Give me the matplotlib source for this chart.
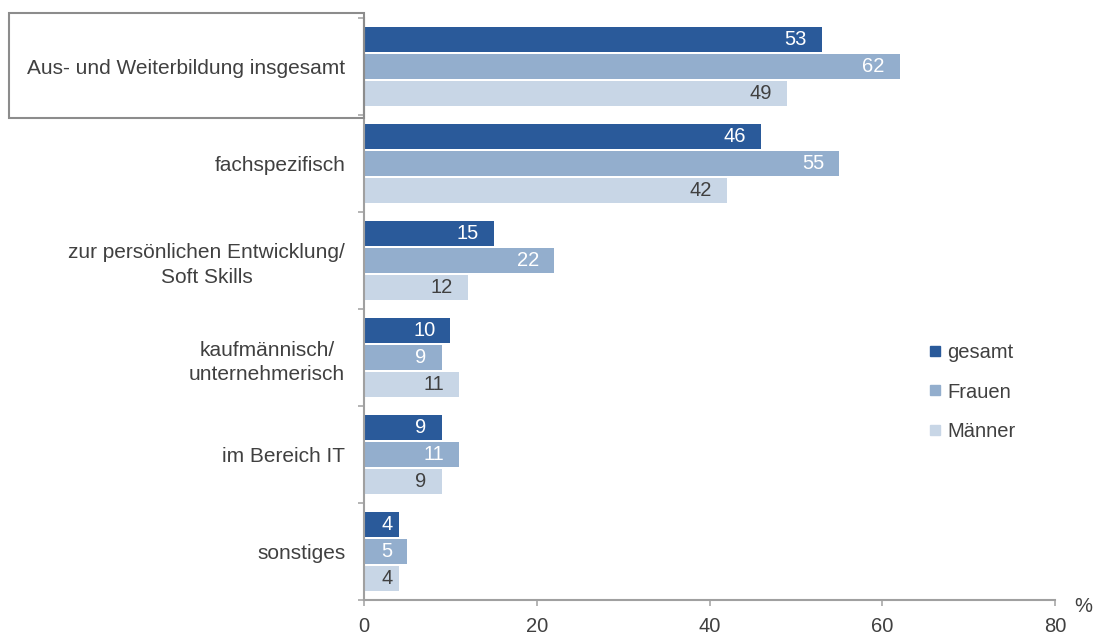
import matplotlib
matplotlib.use("Agg")
import matplotlib.pyplot as plt
from matplotlib.lines import Line2D
from matplotlib.patches import Rectangle

plt.rcParams['font.family'] = ['Liberation Sans', 'DejaVu Sans']

categories = [
    "Aus- und Weiterbildung insgesamt",
    "fachspezifisch",
    "zur persönlichen Entwicklung/\nSoft Skills",
    "kaufmännisch/\nunternehmerisch",
    "im Bereich IT",
    "sonstiges",
]
series_names = ["gesamt", "Frauen", "Männer"]
gesamt = [53, 46, 15, 10, 9, 4]
frauen = [62, 55, 22, 9, 11, 5]
maenner = [49, 42, 12, 11, 9, 4]
x_ticks = [0, 20, 40, 60, 80]

colors = ["#2A5A9A", "#93AECD", "#C8D6E6"]
label_colors = ["white", "white", "#404040"]
text_color = "#404040"
axis_color = "#A0A0A0"

W, H, DPI = 1097, 637, 100
fig = plt.figure(figsize=(W / DPI, H / DPI), dpi=DPI)
ax = fig.add_axes([364 / W, 1 - 600 / H, (1055 - 364) / W, (600 - 18) / H])

offsets = [-0.28, 0.0, 0.28]
bar_h = 0.255
n = len(categories)
ypos = list(range(n))
px_per_unit = (1055 - 364) / 80

for vals, off, col, lcol in zip([gesamt, frauen, maenner], offsets, colors, label_colors):
    ys = [y + off for y in ypos]
    ax.barh(ys, vals, height=bar_h, color=col, linewidth=0, zorder=1)
    for y, v in zip(ys, vals):
        inset = 15 if v * px_per_unit > 40 else 6
        ax.annotate(str(v), xy=(v, y), xytext=(-inset, 0), textcoords="offset pixels",
                    ha="right", va="center", fontsize=14.5, color=lcol)

ax.set_xlim(0, 80)
ax.set_ylim(n - 0.5, -0.5)

# category labels at group centres, tick marks at group boundaries
ax.set_yticks(ypos)
ax.set_yticklabels(categories, fontsize=15, color=text_color, multialignment="center")
for lab in ax.get_yticklabels():
    lab.set_linespacing(1.35)
ax.tick_params(axis="y", which="major", length=0, pad=13.5)
ax.set_yticks([i - 0.5 for i in range(n + 1)], minor=True)
ax.tick_params(axis="y", which="minor", length=4.5, width=1.1, color=axis_color, direction="out")

ax.set_xticks(x_ticks)
ax.set_xticklabels([str(t) for t in x_ticks], fontsize=14.5, color=text_color)
ax.tick_params(axis="x", length=4.5, width=1.1, color=axis_color, direction="out", pad=8)

for side in ["top", "right"]:
    ax.spines[side].set_visible(False)
for side in ["left", "bottom"]:
    ax.spines[side].set_color(axis_color)
    ax.spines[side].set_linewidth(1.5)
    ax.spines[side].set_zorder(3)

fig.text(1083 / W, 1 - 607 / H, "%", fontsize=14.5, color=text_color, ha="center", va="center")

# frame around the overall category
fig.patches.append(Rectangle((9 / W, 1 - 118 / H), (364 - 9) / W, (118 - 13) / H,
                             transform=fig.transFigure, fill=False,
                             edgecolor="#8C8C8C", linewidth=1.5))

handles = [Line2D([], [], marker="s", linestyle="none", markersize=6.5,
                  markerfacecolor=c, markeredgecolor=c) for c in colors]
leg = fig.legend(handles, series_names, loc="center left",
                 bbox_to_anchor=(929 / W, 1 - 392 / H), frameon=False,
                 fontsize=14.5, labelspacing=1.0, handlelength=0.6,
                 handletextpad=0.3, borderpad=0, borderaxespad=0)
for t in leg.get_texts():
    t.set_color(text_color)

fig.savefig("out.png", dpi=DPI)
